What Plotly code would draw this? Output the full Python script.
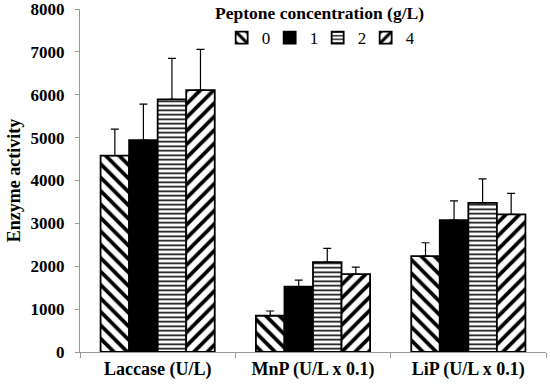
import plotly.graph_objects as go

categories = ["Laccase (U/L)", "MnP (U/L x 0.1)", "LiP (U/L x 0.1)"]
series_names = ["0", "1", "2", "4"]
values = {
    "0": [4580, 846, 2238],
    "1": [4940, 1522, 3077],
    "2": [5890, 2098, 3480],
    "4": [6110, 1818, 3210],
}
errors = {
    "0": [620, 110, 310],
    "1": [840, 156, 450],
    "2": [960, 320, 560],
    "4": [950, 163, 490],
}
y_ticks = [0, 1000, 2000, 3000, 4000, 5000, 6000, 7000, 8000]
legend_title = "Peptone concentration (g/L)"

styles = {
    "0": dict(color="white", pattern=dict(shape="\\", fgcolor="black", bgcolor="white", fgopacity=1, size=9.5, solidity=0.4)),
    "1": dict(color="black", pattern=dict(shape="")),
    "2": dict(color="white", pattern=dict(shape="-", fgcolor="black", bgcolor="white", fgopacity=1, size=4.5, solidity=0.35)),
    "4": dict(color="white", pattern=dict(shape="/", fgcolor="black", bgcolor="white", fgopacity=1, size=9.5, solidity=0.4)),
}

fig = go.Figure()
for s in series_names:
    st = styles[s]
    fig.add_trace(go.Bar(
        x=categories, y=values[s], name=s,
        marker=dict(color=st["color"], pattern=st["pattern"],
                    line=dict(color="black", width=1.8)),
        error_y=dict(type="data", symmetric=False, array=errors[s],
                     arrayminus=[0] * len(categories),
                     color="black", thickness=1.2, width=4),
    ))

font = "Liberation Serif, Times New Roman, serif"
fig.update_layout(
    width=550, height=384,
    margin=dict(l=80, r=4, t=9, b=32),
    paper_bgcolor="white", plot_bgcolor="white",
    barmode="group", bargap=0.265, bargroupgap=0,
    font=dict(family=font, size=17, color="black"),
    showlegend=True,
    legend=dict(
        orientation="h", x=0.51, xanchor="center", y=0.9155, yanchor="middle",
        font=dict(size=17), itemwidth=30, entrywidth=3, traceorder="normal",
        bgcolor="rgba(0,0,0,0)",
    ),
    annotations=[dict(
        text=f"<b>{legend_title}</b>", xref="paper", yref="paper",
        x=0.515, y=0.988, xanchor="center", yanchor="middle",
        showarrow=False, font=dict(size=17.5, family=font),
    )],
    xaxis=dict(
        automargin=False,
        showline=True, linecolor="#999999", linewidth=1,
        ticks="outside", tickson="boundaries", ticklen=5, tickcolor="#999999",
        tickfont=dict(size=18, family=font),
        tickprefix="<b>", ticksuffix="</b>",
    ),
    yaxis=dict(
        automargin=False,
        range=[0, 8000], tickvals=y_ticks,
        ticktext=[f"<b>{v}</b>" for v in y_ticks],
        ticklabeloverflow="allow",
        showline=True, linecolor="#999999", linewidth=1,
        ticks="outside", ticklen=4, tickcolor="#999999",
        ticklabelstandoff=7,
        showgrid=False, zeroline=False,
        tickfont=dict(size=17, family=font),
        title=dict(text="<b>Enzyme activity</b>", font=dict(size=18), standoff=5),
    ),
)
fig.write_html("out.html", config={"displayModeBar": False},
               post_script="document.body.style.margin='0';")
